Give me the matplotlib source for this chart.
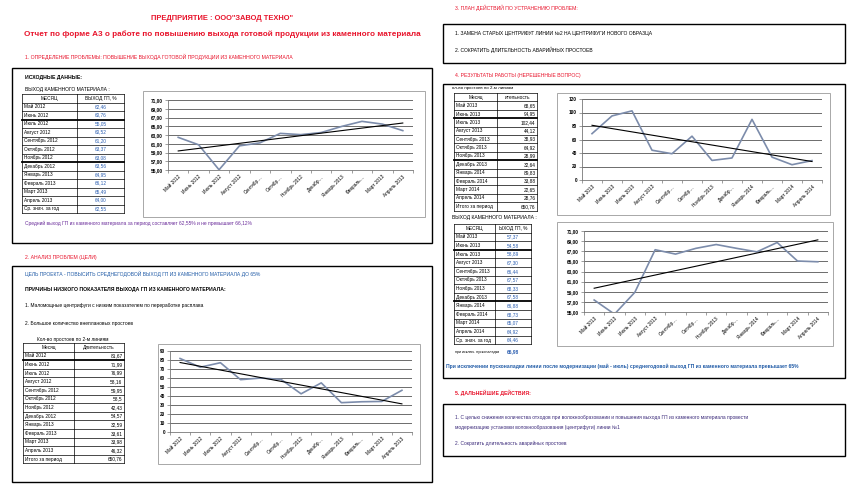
import matplotlib
matplotlib.use("Agg")
import matplotlib.pyplot as plt
from matplotlib.patches import Rectangle
import numpy as np

plt.rcParams['font.family'] = ['Liberation Sans', 'DejaVu Sans']

# ---- data ----
months_1 = ["Май 2012", "Июнь 2012", "Июль 2012", "Август 2012", "Сентябрь 2012", "Октябрь 2012",
            "Ноябрь 2012", "Декабрь 2012", "Январь 2013", "Февраль 2013", "Март 2013", "Апрель 2013"]
months_2 = ["Май 2013", "Июнь 2013", "Июль 2013", "Август 2013", "Сентябрь 2013", "Октябрь 2013",
            "Ноябрь 2013", "Декабрь 2013", "Январь 2014", "Февраль 2014", "Март 2014", "Апрель 2014"]
axis_lbl_1 = ["Май 2012", "Июнь 2012", "Июль 2012", "Август 2012", "Сентябр…", "Октябр…",
              "Ноябрь 2012", "Декабр…", "Январь 2013", "Февраль…", "Март 2013", "Апрель 2013"]
axis_lbl_2 = ["Май 2013", "Июнь 2013", "Июль 2013", "Август 2013", "Сентябр…", "Октябр…",
              "Ноябрь 2013", "Декабр…", "Январь 2014", "Февраль…", "Март 2014", "Апрель 2014"]

yield_1 = [62.46, 60.76, 55.05, 60.52, 61.20, 63.37, 63.08, 63.56, 64.95, 66.12, 65.49, 64.00]
yield_1_avg = "62,55"
down_1 = [81.67, 71.99, 76.99, 58.16, 59.95, 58.5, 42.43, 54.57, 32.59, 33.61, 33.98, 46.32]
down_1_str = ["81,67", "71,99", "76,99", "58,16", "59,95", "58,5", "42,43", "54,57", "32,59",
              "33,61", "33,98", "46,32"]
down_1_total = "650,76"

down_2 = [68.65, 94.95, 102.44, 44.12, 38.93, 64.92, 28.99, 32.64, 89.83, 33.88, 22.65, 28.76]
down_2_total = "650,76"
yield_2 = [57.37, 54.58, 58.89, 67.30, 66.44, 67.57, 68.33, 67.58, 66.88, 68.73, 65.07, 64.92]
yield_2_avg = "64,46"
yield_2_excl = "66,98"

W, H = 855, 495
RED = "#e8132b"
BLUE = "#1f5aa6"
PURPLE = "#6a2c9a"
NAVY = "#3b2a7a"
LINE = "#7c8cab"
VAL_BLUE = "#2a5db0"

fig = plt.figure(figsize=(W / 100, H / 100), dpi=100)
bg = fig.add_axes([0, 0, 1, 1])
bg.set_xlim(0, W)
bg.set_ylim(H, 0)
bg.axis('off')


def T(x, y, s, size=3.8, color="black", weight="normal", ha="left"):
    bg.text(x, y, s, fontsize=size, color=color, fontweight=weight, ha=ha, va="center")


def box(x0, y0, x1, y1, lw=1.0, color="black"):
    bg.add_patch(Rectangle((x0, y0), x1 - x0, y1 - y0, fill=False, lw=lw, edgecolor=color))


def fmt(v):
    return f"{v:.2f}".replace(".", ",")


def table(xc, top, rh, header, col1, col2, vcolor, valign, thick):
    n = len(col1) + 1
    for i in range(n + 1):
        y = top + i * rh
        bg.plot([xc[0], xc[2]], [y, y], color="black", lw=1.3 if i in thick else 0.5)
    for x in xc:
        bg.plot([x, x], [top, top + n * rh], color="black", lw=0.5)
    T((xc[0] + xc[1]) / 2, top + rh / 2, header[0], 3.4, ha="center")
    T((xc[1] + xc[2]) / 2, top + rh / 2, header[1], 3.4, ha="center")
    for i, (a, b) in enumerate(zip(col1, col2)):
        yc = top + (i + 1.5) * rh
        T(xc[0] + 1.5, yc, a, 3.4)
        if valign == "center":
            T((xc[1] + xc[2]) / 2, yc, b, 3.4, color=vcolor, ha="center")
        else:
            T(xc[2] - 1.5, yc, b, 3.4, color=vcolor, ha="right")


def chart(frame, plot, values, labels, ylim, yticks, ylab):
    box(*frame, lw=0.7, color="#a8a8a8")
    x0, y0, x1, y1 = plot
    ax = fig.add_axes([x0 / W, 1 - y1 / H, (x1 - x0) / W, (y1 - y0) / H])
    ax.patch.set_alpha(0)
    x = np.arange(len(values))
    ax.plot(x, values, color=LINE, lw=1.2)
    k, b = np.polyfit(x, values, 1)
    ax.plot(x, k * x + b, color="black", lw=0.8)
    ax.set_xlim(-0.5, len(values) - 0.5)
    ax.set_ylim(*ylim)
    ax.set_yticks(yticks)
    ax.set_yticklabels(ylab, fontsize=3.4, fontweight="bold")
    ax.yaxis.grid(True, color="#555555", lw=0.6)
    ax.set_axisbelow(True)
    ax.set_xticks(x)
    ax.set_xticklabels(labels, rotation=45, ha="right", rotation_mode="anchor", fontsize=3.4)
    ax.set_xticks(np.arange(-0.5, len(values)), minor=True)
    ax.tick_params(axis="x", which="major", length=0, pad=3)
    ax.tick_params(axis="x", which="minor", length=2, width=0.5, color="#777777")
    ax.tick_params(axis="y", length=2, width=0.5, color="#777777", pad=1.5)
    for s in ["top", "right"]:
        ax.spines[s].set_visible(False)
    for s in ["left", "bottom"]:
        ax.spines[s].set_color("#777777")
        ax.spines[s].set_linewidth(0.6)
    return ax


# ---- left half ----
T(222, 18, "ПРЕДПРИЯТИЕ : ООО\"ЗАВОД ТЕХНО\"", 5.4, RED, "bold", "center")
T(222, 34, "Отчет по форме А3 о работе по повышению выхода готовой продукции из каменного материала",
  5.9, RED, "bold", "center")
T(25, 57, "1. ОПРЕДЕЛЕНИЕ ПРОБЛЕМЫ: ПОВЫШЕНИЕ ВЫХОДА ГОТОВОЙ ПРОДУКЦИИ ИЗ КАМЕННОГО МАТЕРИАЛА", 3.7, RED)
box(12, 68, 432, 243)
T(25, 78, "ИСХОДНЫЕ ДАННЫЕ:", 3.7, weight="bold")
T(25, 90, "ВЫХОД КАМЕННОГО МАТЕРИАЛА :", 3.6)
table([22, 77, 124], 94, 8.5, ["МЕСЯЦ", "ВЫХОД ГП, %"],
      months_1 + ["Ср. знач. за год"], [fmt(v) for v in yield_1] + [yield_1_avg],
      VAL_BLUE, "center", [3, 8])
T(25, 223, "Средний выход ГП из каменного материала за период составляет 62,55% и не превышает 66,12%",
  3.5, PURPLE)
chart((143, 91, 425, 217), (168, 100, 413, 170), yield_1, axis_lbl_1,
      (55, 71), np.arange(55, 72, 2), [fmt(v) for v in np.arange(55, 72, 2)])

T(25, 257, "2. АНАЛИЗ ПРОБЛЕМ (ЦЕЛИ)", 3.7, RED)
box(12, 266, 432, 482)
T(25, 274, "ЦЕЛЬ ПРОЕКТА - ПОВЫСИТЬ СРЕДНЕГОДОВОЙ ВЫХОД ГП ИЗ КАМЕННОГО МАТЕРИАЛА ДО 65%", 3.6, BLUE)
T(25, 290, "ПРИЧИНЫ НИЗКОГО ПОКАЗАТЕЛЯ ВЫХОДА ГП ИЗ КАМЕННОГО МАТЕРИАЛА:", 3.7, weight="bold")
T(25, 306, "1. Маломощные центрифуги с низким показателем по переработке расплава", 3.5)
T(25, 323, "2. Большое количество внеплановых простоев", 3.5)
T(73, 339, "Кол-во простоев по 2-м линиям", 3.4, ha="center")
table([23, 74, 124], 343, 8.6, ["Месяц", "Длительность"],
      months_1 + ["Итого за период"], down_1_str + [down_1_total],
      "black", "right", [2])
chart((158, 344, 420, 464), (170, 351, 412, 432), down_1, axis_lbl_1,
      (0, 90), np.arange(0, 91, 10), [str(v) for v in range(0, 91, 10)])

# ---- right half ----
T(455, 8, "3. ПЛАН ДЕЙСТВИЙ ПО УСТРАНЕНИЮ ПРОБЛЕМ:", 3.7, RED)
box(443, 24, 845, 63)
T(455, 33, "1. ЗАМЕНА СТАРЫХ ЦЕНТРИФУГ ЛИНИИ №2 НА ЦЕНТРИФУГИ НОВОГО ОБРАЗЦА", 3.6)
T(455, 50, "2. СОКРАТИТЬ ДЛИТЕЛЬНОСТЬ АВАРИЙНЫХ ПРОСТОЕВ", 3.6)

T(455, 76, "4. РЕЗУЛЬТАТЫ РАБОТЫ (НЕРЕШЕННЫЕ ВОПРОС)", 3.7, RED)
box(443, 84, 845, 378)
T(452, 88, "ол-во простоев по 2-м линиям", 3.2)
table([454, 497, 537], 93, 8.4, ["Месяц", "ительность"],
      months_2 + ["Итого за период"], [fmt(v) for v in down_2] + [down_2_total],
      "black", "right", [3, 8])
chart((557, 93, 830, 215), (582, 99, 822, 180), down_2, axis_lbl_2,
      (0, 120), np.arange(0, 121, 20), [str(v) for v in range(0, 121, 20)])

T(452, 218, "ВЫХОД КАМЕННОГО МАТЕРИАЛА :", 3.6)
table([454, 495, 531], 224, 8.6, ["МЕСЯЦ", "ЫХОД ГП, %"],
      months_2 + ["Ср. знач. за год"], [fmt(v) for v in yield_2] + [yield_2_avg],
      VAL_BLUE, "center", [3, 9])
T(455, 352, "при исключ. пусконаладки", 2.6)
T(513, 352, yield_2_excl, 3.5, VAL_BLUE, "bold", "center")
chart((557, 222, 833, 346), (584, 231, 828, 312), yield_2, axis_lbl_2,
      (55, 71), np.arange(55, 72, 2), [fmt(v) for v in np.arange(55, 72, 2)])
T(446, 366, "При исключении пусконаладки линии после модернизации (май - июль) среднегодовой выход ГП "
  "из каменного материала превышает 65%", 3.6, BLUE, "bold")

T(455, 393, "5. ДАЛЬНЕЙШИЕ ДЕЙСТВИЯ:", 3.7, RED, "bold")
box(443, 404, 845, 456)
T(455, 418, "1. С целью снижения количества отходов при волокнообразовании и повышения выхода ГП из "
  "каменного материала провести", 3.5, NAVY)
T(455, 428, "модернизацию установки волокнообразования (центрифуги) линии №1", 3.5, NAVY)
T(455, 443, "2. Сократить длительность аварийных простоев", 3.5, NAVY)

fig.savefig("out.png", dpi=100)
